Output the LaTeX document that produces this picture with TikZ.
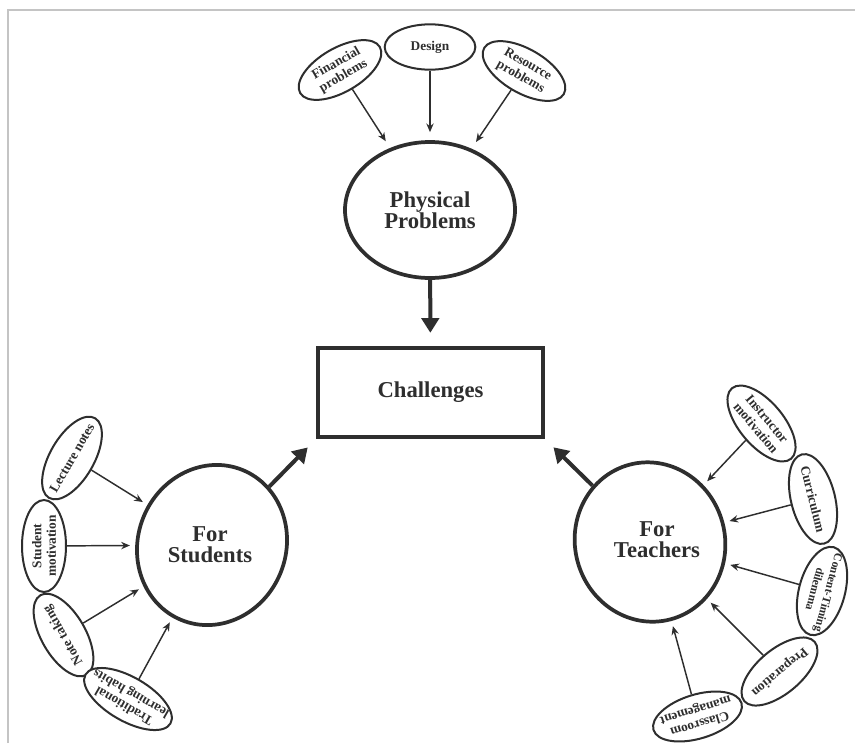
\documentclass[tikz,border=0pt]{standalone}
\usepackage{fontspec}
\setmainfont{Liberation Serif}
\usetikzlibrary{shapes.geometric,arrows.meta}
\definecolor{ink}{HTML}{2E2E2E}
\definecolor{edge}{HTML}{C4C4C4}
\begin{document}
\begin{tikzpicture}[x=0.75pt,y=-0.75pt,
  sat/.style={ellipse, draw=ink, line width=1.5pt, fill=white, inner sep=0pt,
    minimum width=69pt, minimum height=33pt},
  sattext/.style={font=\fontsize{10}{10.8}\selectfont\bfseries, align=center,
    inner sep=0pt, text=ink},
  hub/.style={ellipse, draw=ink, line width=2.8pt, fill=white, inner sep=0pt},
  hubtext/.style={font=\fontsize{17}{15.5}\selectfont\bfseries, align=center,
    inner sep=0pt, text=ink},
  link/.style={draw=ink, line width=1.1pt, -{Stealth[length=6.5pt,width=5.5pt]},
    shorten >=4pt},
  bigarrow/.style={draw=ink, line width=3pt, -{Triangle[length=11pt,width=13pt]}},
  edgeline/.style={draw=edge, line width=1.5pt}
]
\useasboundingbox (0,0) rectangle (855,743);
\draw[edgeline] (8,743) -- (8,10) -- (855,10);

% hubs
\node[hub, hubtext, minimum width=127.5pt, minimum height=102pt] (pp) at (430,210) {Physical\\Problems};
\node[draw=ink, line width=2.8pt, fill=white, minimum width=168.75pt, minimum height=66.75pt,
  font=\fontsize{17}{15.5}\selectfont\bfseries, text=ink] (ch) at (430.5,392.5) {Challenges};
\node[hub, minimum width=111pt, minimum height=121.5pt, rotate=-22] (fs) at (212,545) {};
\node[hubtext] (fst) at (210,545) {For\\Students};
\node[hub, minimum width=112.5pt, minimum height=120pt, rotate=15] (ft) at (650,542) {};
\node[hubtext] (ftt) at (657,540) {For\\Teachers};

% top satellites
\node[sat, rotate=30] (fin) at (340,70) {};
\node[sattext, rotate=30] (fint) at (fin) {Financial\\problems};
\node[sat, minimum width=68pt, minimum height=34pt] (des) at (430,47) {};
\node[sattext] (dest) at (des) {Design};
\node[sat, rotate=-30] (res) at (524,71) {};
\node[sattext, rotate=-30] (rest) at (res) {Resource\\problems};

% left satellites
\node[sat, rotate=60] (lec) at (72,458) {};
\node[sattext, rotate=60] (lect) at (lec) {Lecture notes};
\node[sat, rotate=90] (smo) at (44,546) {};
\node[sattext, rotate=90] (smot) at (smo) {Student\\motivation};
\node[sat, rotate=120] (note) at (63.5,635) {};
\node[sattext, rotate=120] (notet) at (note) {Note taking};
\node[sat, rotate=150, minimum width=73.5pt] (trad) at (128,699) {};
\node[sattext, rotate=150] (tradt) at (trad) {Traditional\\learning habits};

% right satellites
\node[sat, rotate=-50] (ins) at (761.5,423.5) {};
\node[sattext, rotate=-50] (inst) at (ins) {Instructor\\motivation};
\node[sat, rotate=-76] (cur) at (813,499) {};
\node[sattext, rotate=-76] (curt) at (cur) {Curriculum};
\node[sat, rotate=-105, minimum width=68pt, minimum height=34.5pt] (cont) at (822,591) {};
\node[sattext, rotate=-105, font=\fontsize{8.8}{10.5}\selectfont\bfseries] (contt) at (cont) {Content-Timing\\dilemma};
\node[sat, rotate=-140] (prep) at (779.5,671.5) {};
\node[sattext, rotate=-140] (prept) at (prep) {Preparation};
\node[sat, rotate=197] (cls) at (697.5,716.5) {};
\node[sattext, rotate=197] (clst) at (cls) {Classroom\\management};

% thin arrows
\draw[link, shorten >=6pt] (fin) -- (pp);
\draw[link, shorten >=6pt] (des) -- (pp);
\draw[link, shorten >=6pt] (res) -- (pp);
\draw[link] (lec) -- (fs);
\draw[link] (smo) -- (fs);
\draw[link] (note) -- (fs);
\draw[link] (trad) -- (fs);
\draw[link] (ins) -- (ft);
\draw[link] (cur) -- (ft);
\draw[link] (cont) -- (ft);
\draw[link] (prep) -- (ft);
\draw[link] (cls) -- (ft);

% thick arrows
\draw[bigarrow, shorten >=10pt] (pp) -- (ch);
\draw[bigarrow, shorten >=9pt] (fs) -- (ch.south west);
\draw[bigarrow, shorten >=9pt] (ft) -- (ch.south east);
\end{tikzpicture}
\end{document}
